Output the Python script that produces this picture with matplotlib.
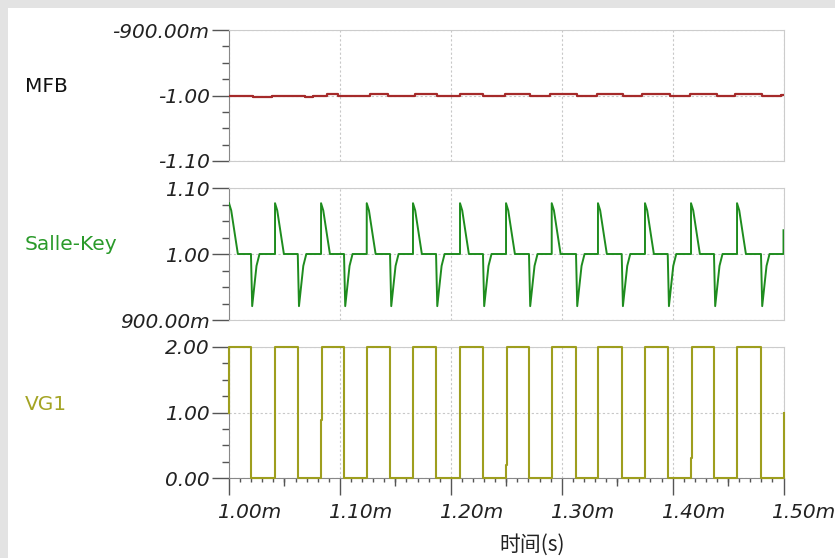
import numpy as np
import matplotlib
matplotlib.use("Agg")
import matplotlib.pyplot as plt
from matplotlib.patches import Rectangle
from matplotlib.ticker import MultipleLocator
from matplotlib.transforms import ScaledTranslation

plt.rcParams["font.family"] = ["DejaVu Sans"]

# time axis is in ms (labels carry the "m" suffix)
T_START, T_END = 1.0, 1.5
x_ticks = [1.0, 1.1, 1.2, 1.3, 1.4, 1.5]
x_labels = ["1.00m", "1.10m", "1.20m", "1.30m", "1.40m", "1.50m"]
x_mid_ticks = [1.05, 1.15, 1.25, 1.35, 1.45]

# VG1 square wave, edges (ms)
vg1_rise = [1.0415, 1.0830, 1.1242, 1.1659, 1.2083, 1.2498,
            1.2910, 1.3327, 1.3751, 1.4166, 1.4581]
vg1_fall = [1.0198, 1.0620, 1.1037, 1.1452, 1.1867, 1.2290,
            1.2705, 1.3129, 1.3541, 1.3956, 1.4373, 1.4797]
vg1_low, vg1_high = 0.0, 2.0
vg1_start_v, vg1_end_v = 1.0, 1.0
# short intermediate steps on a few rising edges: edge index -> level
vg1_glitch = {1: 0.89, 5: 0.20, 9: 0.31}
vg1_glitch_dt = 0.0012

# Salle-Key output: spike shape after each VG1 edge
sk_base = 1.0
sk_rise_dt = [0.0, 0.0020, 0.0058, 0.0080]
sk_rise_v = [1.077, 1.066, 1.024, 1.000]
sk_fall_dt = [0.0, 0.0011, 0.0050, 0.0077]
sk_fall_v = [1.000, 0.921, 0.982, 1.000]
sk_end_v = 1.036

# MFB output: tiny steps around -1.00 V
mfb_t = [1.0, 1.0216, 1.0388, 1.0685, 1.0757, 1.0884, 1.0983, 1.1271, 1.1434,
         1.1677, 1.1876, 1.2083, 1.2290, 1.2489, 1.2714, 1.2895, 1.3138,
         1.3318, 1.3553, 1.3724, 1.3977, 1.4157, 1.4400, 1.4563, 1.4806,
         1.4977, 1.5]
mfb_v = [-1.0, -1.0023, -1.0, -1.0023, -1.0, -0.9977, -1.0, -0.9977, -1.0,
         -0.9977, -1.0, -0.9977, -1.0, -0.9977, -1.0, -0.9977, -1.0,
         -0.9977, -1.0, -0.9977, -1.0, -0.9977, -1.0, -0.9977, -1.0,
         -0.9985, -0.9985]

MFB_COLOR = "#a52a2a"
SK_COLOR = "#1e8c1e"
VG1_COLOR = "#9e9e1e"

# --- build traces from the edges ---
events = [(T_START, "r", -1)] + [(t, "r", i) for i, t in enumerate(vg1_rise)] \
    + [(t, "f", i) for i, t in enumerate(vg1_fall)]
events.sort()

vg_t, vg_v = [T_START], [vg1_start_v]
sk_t, sk_v = [], []
for t, kind, i in events:
    if kind == "r":
        if i >= 0:
            vg_t.append(t); vg_v.append(vg1_low)
            if i in vg1_glitch:
                vg_t += [t, t + vg1_glitch_dt]
                vg_v += [vg1_glitch[i], vg1_glitch[i]]
                t_hi = t + vg1_glitch_dt
            else:
                t_hi = t
            vg_t.append(t_hi); vg_v.append(vg1_high)
            sk_t.append(t); sk_v.append(sk_base)
        else:
            vg_t.append(t); vg_v.append(vg1_high)
        sk_t += [t + d for d in sk_rise_dt]
        sk_v += sk_rise_v
    else:
        vg_t += [t, t]; vg_v += [vg1_high, vg1_low]
        sk_t += [t + d for d in sk_fall_dt]
        sk_v += sk_fall_v
vg_t += [T_END, T_END]; vg_v += [vg1_low, vg1_end_v]
sk_t += [T_END, T_END]; sk_v += [sk_base, sk_end_v]

# --- figure ---
fig = plt.figure(figsize=(8.35, 5.58), dpi=100)
fig.patch.set_facecolor("#e3e3e3")
fig.patches.append(Rectangle((8 / 835, 0), 1, 1 - 8 / 558, transform=fig.transFigure,
                             facecolor="white", edgecolor="none", zorder=-10))

left, width = 229 / 835, 554.5 / 835
ax_mfb = fig.add_axes([left, 1 - 161 / 558, width, 131 / 558])
ax_sk = fig.add_axes([left, 1 - 320 / 558, width, 132 / 558])
ax_vg = fig.add_axes([left, 1 - 478 / 558, width, 131 / 558])

ax_mfb.plot(mfb_t, mfb_v, color=MFB_COLOR, lw=1.6, drawstyle="steps-post", zorder=3)
ax_sk.plot(sk_t, sk_v, color=SK_COLOR, lw=1.4, zorder=3)
ax_vg.plot(vg_t, vg_v, color=VG1_COLOR, lw=1.5, zorder=3, clip_on=False)

TICK_FONT = dict(fontstyle="italic", fontsize=14.5, color="#222222")

panels = [
    (ax_mfb, (-1.1, -0.9), [-1.1, -1.0, -0.9], ["-1.10", "-1.00", "-900.00m"], 0.025),
    (ax_sk, (0.9, 1.1), [0.9, 1.0, 1.1], ["900.00m", "1.00", "1.10"], 0.025),
    (ax_vg, (0.0, 2.0), [0.0, 1.0, 2.0], ["0.00", "1.00", "2.00"], 0.25),
]
for ax, ylim, yt, yl, ymin in panels:
    ax.set_xlim(T_START, T_END)
    ax.set_ylim(*ylim)
    ax.set_yticks(yt, yl, **TICK_FONT)
    ax.yaxis.set_minor_locator(MultipleLocator(ymin))
    ax.tick_params(axis="y", which="major", length=12, width=1, color="#555555", pad=2)
    ax.tick_params(axis="y", which="minor", length=5, width=1, color="#555555")
    ax.set_xticks(x_ticks)
    ax.grid(True, which="major", color="#c8c8c8", linestyle=(0, (2, 2)), linewidth=0.8)
    for side in ["top", "right", "bottom"]:
        ax.spines[side].set_color("#cccccc")
    ax.spines["left"].set_color("#888888")
    ax.set_axisbelow(True)

for ax in (ax_mfb, ax_sk):
    ax.tick_params(axis="x", which="both", length=0, labelbottom=False)

ax_vg.spines["bottom"].set_color("#888888")
ax_vg.set_xticks(x_ticks, x_labels, **TICK_FONT)
ax_vg.xaxis.set_minor_locator(MultipleLocator(0.01))
ax_vg.tick_params(axis="x", which="major", length=12, width=1, color="#555555", pad=6)
ax_vg.tick_params(axis="x", which="minor", length=3, width=1, color="#555555")
# the simulator puts the time labels just right of their ticks
shift = ScaledTranslation(-12 / 100, 0, fig.dpi_scale_trans)
for lbl in ax_vg.get_xticklabels():
    lbl.set_horizontalalignment("left")
    lbl.set_transform(lbl.get_transform() + shift)
sec = ax_vg.secondary_xaxis("bottom")
sec.set_xticks(x_mid_ticks, [""] * len(x_mid_ticks))
sec.tick_params(axis="x", length=6, width=1, color="#555555")
sec.spines["bottom"].set_visible(False)

fig.text(25 / 835, 1 - 87 / 558, "MFB", fontsize=14.5, color="#111111", ha="left", va="center")
fig.text(25 / 835, 1 - 245 / 558, "Salle-Key", fontsize=14.5, color="#2a9a2a", ha="left", va="center")
fig.text(25 / 835, 1 - 405 / 558, "VG1", fontsize=14.5, color="#a4a424", ha="left", va="center")
fig.text(532 / 835, 1 - 545 / 558, "时间(s)", fontsize=15, color="#222222", ha="center",
         va="center", family=["Noto Sans CJK SC", "DejaVu Sans"])

fig.savefig("out.png", dpi=100, facecolor=fig.get_facecolor())
